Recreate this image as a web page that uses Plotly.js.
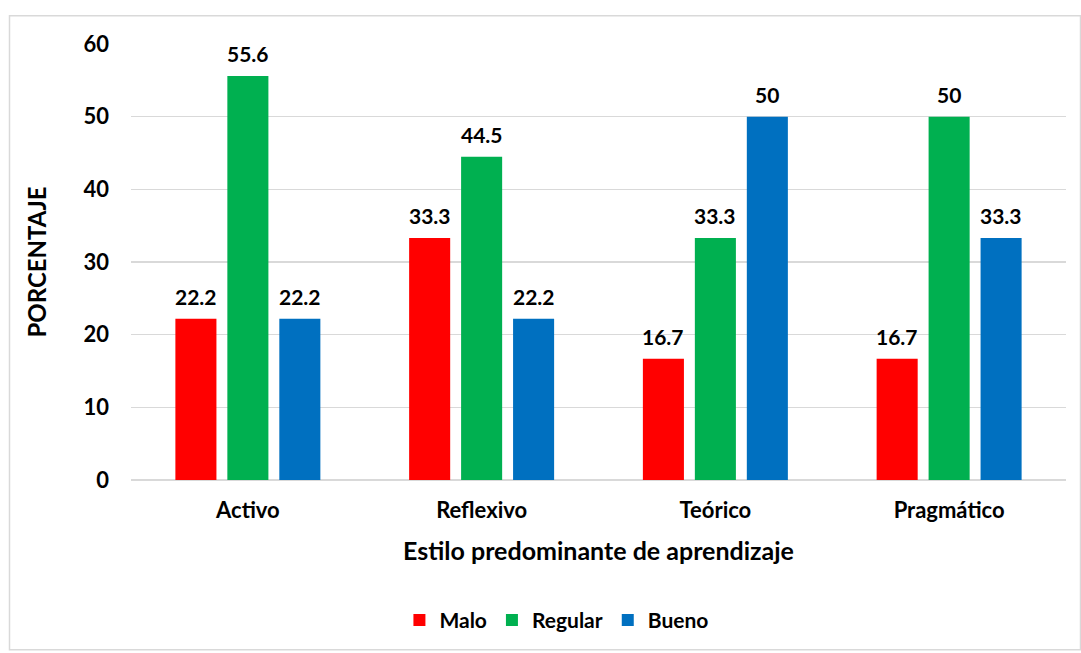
<!DOCTYPE html>
<html>
<head>
<meta charset="utf-8">
<script src="https://cdn.plot.ly/plotly-3.0.1.min.js"></script>
<style>html,body{margin:0;padding:0;background:#fff;}#chart{width:1081px;height:653px;}</style>
</head>
<body>
<div id="chart"></div>
<script>
const categories = ["Activo", "Reflexivo", "Teórico", "Pragmático"];
const seriesNames = ["Malo", "Regular", "Bueno"];
const malo = [22.2, 33.3, 16.7, 16.7];
const regular = [55.6, 44.5, 33.3, 50];
const bueno = [22.2, 22.2, 50, 33.3];
const yTicks = [0, 10, 20, 30, 40, 50, 60];
const colors = ["#FF0000", "#00B050", "#0070C0"];

const FONT = "Lato, 'Open Sans', sans-serif";
const seriesVals = [malo, regular, bueno];
const BARGAP = 0.333;

const traces = seriesVals.map((vals, i) => ({
  type: "bar",
  name: seriesNames[i],
  x: categories,
  y: vals,
  marker: {color: colors[i]},
  textposition: "none",
  hoverinfo: "x+y+name"
}));

// data labels placed at bar tops via the axis scales
const annotations = [];
const nS = seriesVals.length;
seriesVals.forEach((vals, i) => {
  vals.forEach((v, j) => {
    annotations.push({
      x: j + (i - (nS - 1) / 2) * (1 - BARGAP) / nS,
      y: v,
      xref: "x", yref: "y",
      text: String(v),
      showarrow: false,
      yanchor: "bottom",
      yshift: 8,
      font: {family: FONT, size: 21, color: "#000", weight: "bold"}
    });
  });
});

const layout = {
  width: 1081, height: 653,
  margin: {l: 131, r: 15, t: 44, b: 171},
  paper_bgcolor: "#fff", plot_bgcolor: "#fff",
  font: {family: FONT, size: 21, color: "#000", weight: "bold"},
  barmode: "group",
  bargap: BARGAP,
  bargroupgap: 0.21,
  showlegend: true,
  legend: {
    orientation: "h", x: 0.455, xanchor: "center", y: -0.322, yanchor: "middle",
    font: {family: FONT, size: 21, color: "#000", weight: "bold"},
    traceorder: "normal", itemwidth: 30
  },
  xaxis: {
    type: "category",
    showgrid: false, zeroline: false, showline: false,
    ticks: "", ticklabelstandoff: 15,
    tickfont: {family: FONT, size: 22, color: "#000", weight: "bold"},
    title: {text: "Estilo predominante de aprendizaje", standoff: 20,
      font: {family: FONT, size: 25, color: "#000", weight: "bold"}}
  },
  yaxis: {
    range: [0, 60], tickvals: yTicks, ticktext: yTicks.map(String),
    showgrid: true, gridcolor: "#D9D9D9", gridwidth: 1.5,
    zeroline: true, zerolinecolor: "#D9D9D9", zerolinewidth: 1.5,
    showline: false, ticks: "", ticklabelstandoff: 21,
    tickfont: {family: FONT, size: 22, color: "#000", weight: "bold"},
    title: {text: "PORCENTAJE", standoff: 30,
      font: {family: FONT, size: 24, color: "#000", weight: "bold"}}
  },
  annotations: annotations,
  shapes: [{
    type: "rect", xref: "paper", yref: "paper",
    x0: (9.5 - 131) / 935, x1: (1080.5 - 131) / 935,
    y0: (482 - 652.5) / 438, y1: (482 - 15.5) / 438,
    line: {color: "#D9D9D9", width: 1.5}, fillcolor: "rgba(0,0,0,0)", layer: "below"
  }]
};

Plotly.newPlot("chart", traces, layout, {displayModeBar: false, staticPlot: true});
</script>
</body>
</html>
